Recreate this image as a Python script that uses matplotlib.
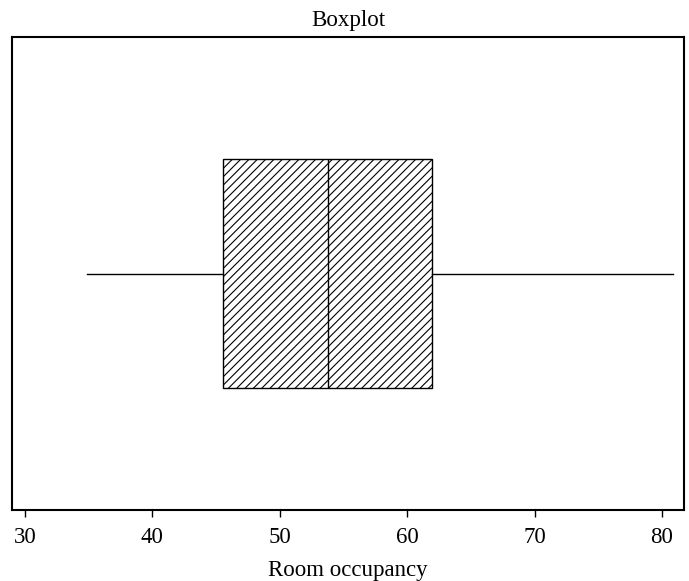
import matplotlib
matplotlib.use("Agg")
import matplotlib.pyplot as plt

plt.rcParams['font.family'] = ['Liberation Serif', 'DejaVu Serif']
plt.rcParams['hatch.linewidth'] = 0.8

# five-number summary
stat_names = ['whislo', 'q1', 'med', 'q3', 'whishi']
stat_values = [34.9, 45.55, 53.8, 61.95, 80.85]
xticks = [30, 40, 50, 60, 70, 80]

stats = dict(zip(stat_names, stat_values))
stats['fliers'] = []

fig = plt.figure(figsize=(6.89, 5.81), dpi=100)
ax = fig.add_axes([12 / 689, 71 / 581, 672 / 689, 473 / 581])

ax.bxp([stats], positions=[1], widths=0.97, vert=False, patch_artist=True,
       showcaps=False,
       boxprops=dict(facecolor='white', edgecolor='black', linewidth=1.0, hatch='////'),
       medianprops=dict(color='black', linewidth=1.0),
       whiskerprops=dict(color='black', linewidth=1.0))

ax.set_xlim(28.98, 81.73)
ax.set_ylim(0, 2)
ax.set_xticks(xticks)
ax.set_yticks([])
ax.tick_params(axis='x', direction='out', length=5, width=1, labelsize=16.5, pad=7)
for s in ax.spines.values():
    s.set_linewidth(1.5)

ax.set_title('Boxplot', fontsize=16.5, pad=8)
ax.set_xlabel('Room occupancy', fontsize=16.5, labelpad=9)

fig.savefig('out.png', dpi=100)
